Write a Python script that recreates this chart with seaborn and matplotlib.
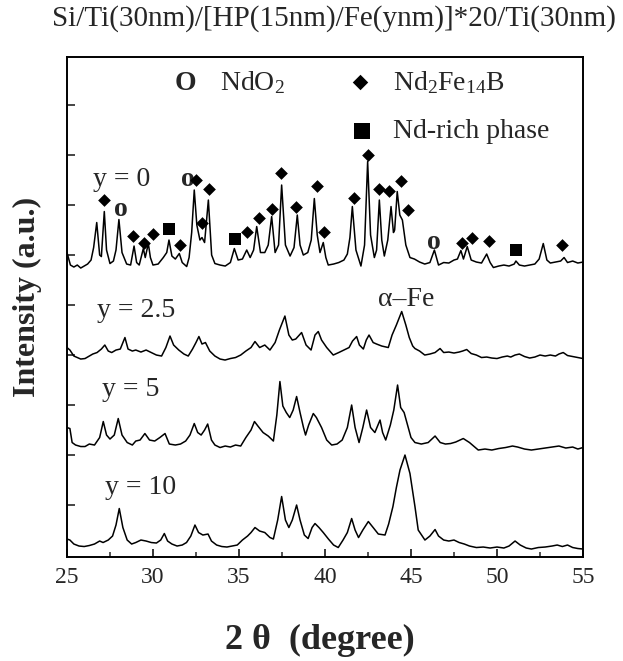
import matplotlib
matplotlib.use("Agg")
import matplotlib.pyplot as plt
from matplotlib.ticker import MultipleLocator
import pandas as pd
import seaborn as sns

sns.set_style("ticks")
plt.rcParams["font.family"] = ["Liberation Serif", "DejaVu Serif"]
plt.rcParams["mathtext.fontset"] = "custom"
plt.rcParams["mathtext.rm"] = "Liberation Serif"
plt.rcParams["mathtext.it"] = "Liberation Serif:italic"
plt.rcParams["mathtext.bf"] = "Liberation Serif:bold"

# ---- XRD patterns (2-theta, offset intensity), one list per Fe thickness ----
pattern_y0 = [
    (25.0, 6.05), (25.2, 5.80), (25.4, 5.76), (25.6, 5.80), (25.8, 5.74), (26.0, 5.78),
    (26.2, 5.82), (26.4, 5.90), (26.55, 6.15), (26.73, 6.65), (26.9, 6.00), (27.0, 5.97),
    (27.17, 6.87), (27.3, 6.10), (27.5, 5.83), (27.7, 5.88), (27.85, 6.10), (28.02, 6.71),
    (28.2, 6.05), (28.47, 5.82), (28.7, 5.80), (28.9, 6.18), (29.05, 5.85), (29.2, 5.80),
    (29.44, 6.13), (29.55, 5.95), (29.73, 6.23), (29.85, 5.95), (30.0, 5.80), (30.3, 5.82),
    (30.6, 5.95), (30.8, 6.05), (30.93, 6.30), (31.1, 5.98), (31.3, 5.92), (31.53, 6.03),
    (31.7, 5.85), (31.96, 5.77), (32.1, 5.95), (32.25, 6.45), (32.4, 7.30), (32.55, 6.60),
    (32.73, 6.30), (32.85, 6.35), (33.0, 6.25), (33.22, 7.10), (33.41, 6.00), (33.6, 5.83),
    (33.9, 5.80), (34.2, 5.78), (34.5, 5.85), (34.73, 6.13), (34.95, 5.90), (35.2, 5.92),
    (35.45, 6.10), (35.65, 5.95), (35.85, 6.10), (36.03, 6.57), (36.25, 6.05), (36.5, 6.05),
    (36.7, 6.20), (36.9, 6.77), (37.1, 6.05), (37.3, 6.20), (37.48, 7.40), (37.7, 6.20),
    (37.97, 5.98), (38.2, 6.15), (38.39, 6.80), (38.55, 6.20), (38.74, 6.00), (39.0, 6.05),
    (39.2, 6.30), (39.38, 7.13), (39.55, 6.40), (39.71, 6.05), (39.9, 6.25), (40.05, 5.95),
    (40.19, 5.80), (40.5, 5.82), (40.8, 5.85), (41.1, 5.90), (41.3, 6.02), (41.45, 6.35),
    (41.59, 6.97), (41.8, 6.10), (42.09, 5.78), (42.3, 6.20), (42.48, 7.87), (42.65, 6.40),
    (42.87, 5.95), (43.0, 6.10), (43.16, 7.10), (43.3, 6.30), (43.45, 5.98), (43.65, 6.30),
    (43.84, 6.97), (43.98, 6.45), (44.05, 6.50), (44.2, 7.27), (44.35, 6.80), (44.5, 6.70),
    (44.7, 6.20), (44.94, 5.95), (45.2, 5.92), (45.5, 5.86), (45.8, 5.82), (46.1, 5.85),
    (46.36, 6.10), (46.6, 5.80), (46.9, 5.85), (47.2, 5.84), (47.5, 5.90), (47.7, 5.92),
    (47.9, 6.09), (48.05, 5.92), (48.27, 6.17), (48.5, 5.90), (48.8, 5.86), (49.1, 5.84),
    (49.4, 6.02), (49.6, 5.85), (49.79, 5.75), (50.1, 5.78), (50.4, 5.80), (50.7, 5.78),
    (51.0, 5.82), (51.1, 5.88), (51.3, 5.80), (51.6, 5.78), (51.9, 5.80), (52.2, 5.82),
    (52.45, 5.92), (52.69, 6.23), (52.9, 5.90), (53.1, 5.84), (53.4, 5.86), (53.7, 5.88),
    (53.9, 5.95), (54.1, 5.85), (54.4, 5.88), (54.7, 5.84), (55.0, 5.86),
]

pattern_y2_5 = [
    (25.0, 4.15), (25.17, 4.10), (25.4, 3.98), (25.6, 3.95), (25.8, 3.92), (26.05, 3.93),
    (26.3, 3.98), (26.5, 4.02), (26.75, 4.05), (27.0, 4.12), (27.2, 4.20), (27.4, 4.08),
    (27.6, 4.05), (27.85, 4.10), (28.1, 4.12), (28.37, 4.35), (28.55, 4.12), (28.8, 4.08),
    (29.0, 4.10), (29.3, 4.06), (29.6, 4.10), (29.9, 4.05), (30.2, 4.00), (30.5, 3.98),
    (30.75, 4.15), (30.99, 4.38), (31.2, 4.20), (31.5, 4.10), (31.8, 4.02), (32.05, 3.98),
    (32.3, 4.12), (32.5, 4.25), (32.67, 4.37), (32.85, 4.22), (33.05, 4.25), (33.3, 4.08),
    (33.6, 3.98), (33.9, 3.92), (34.19, 3.90), (34.5, 3.93), (34.8, 3.95), (35.1, 4.00),
    (35.4, 4.08), (35.7, 4.15), (35.93, 4.27), (36.2, 4.15), (36.5, 4.20), (36.8, 4.10),
    (37.1, 4.25), (37.35, 4.50), (37.67, 4.78), (37.9, 4.40), (38.1, 4.30), (38.3, 4.32),
    (38.64, 4.45), (38.9, 4.20), (39.19, 4.10), (39.42, 4.40), (39.61, 4.47), (39.8, 4.30),
    (40.1, 4.15), (40.48, 4.00), (40.8, 4.05), (41.1, 4.10), (41.4, 4.15), (41.6, 4.28),
    (41.84, 4.37), (42.0, 4.20), (42.23, 4.12), (42.4, 4.30), (42.56, 4.40), (42.8, 4.25),
    (43.0, 4.22), (43.3, 4.18), (43.68, 4.15), (43.9, 4.40), (44.15, 4.60), (44.46, 4.87),
    (44.7, 4.60), (44.9, 4.35), (45.1, 4.18), (45.23, 4.13), (45.5, 4.08), (45.8, 4.00),
    (46.1, 4.02), (46.4, 4.05), (46.69, 4.13), (46.9, 4.05), (47.2, 4.06), (47.5, 4.04),
    (47.8, 4.06), (48.0, 4.08), (48.24, 4.11), (48.5, 4.03), (48.8, 4.00), (49.1, 3.95),
    (49.4, 3.96), (49.7, 3.94), (50.0, 3.93), (50.3, 3.96), (50.6, 3.98), (50.8, 3.96),
    (51.05, 4.00), (51.3, 4.02), (51.6, 3.97), (51.9, 3.94), (52.2, 3.96), (52.5, 4.00),
    (52.8, 3.98), (53.1, 4.00), (53.4, 3.98), (53.6, 4.02), (53.85, 4.05), (54.1, 3.99),
    (54.4, 3.97), (54.7, 3.95), (55.0, 3.93),
]

pattern_y5 = [
    (25.0, 2.55), (25.17, 2.53), (25.3, 2.25), (25.5, 2.20), (25.8, 2.17), (26.05, 2.17),
    (26.3, 2.22), (26.6, 2.20), (26.9, 2.35), (27.11, 2.67), (27.3, 2.40), (27.5, 2.32),
    (27.75, 2.40), (27.98, 2.73), (28.2, 2.40), (28.5, 2.25), (28.8, 2.20), (29.0, 2.28),
    (29.25, 2.30), (29.53, 2.43), (29.8, 2.30), (30.1, 2.28), (30.4, 2.35), (30.7, 2.43),
    (30.95, 2.22), (31.3, 2.20), (31.6, 2.22), (31.9, 2.28), (32.15, 2.40), (32.4, 2.63),
    (32.6, 2.45), (32.8, 2.40), (33.0, 2.50), (33.18, 2.62), (33.4, 2.30), (33.6, 2.20),
    (33.9, 2.15), (34.2, 2.18), (34.5, 2.16), (34.8, 2.20), (35.1, 2.18), (35.4, 2.35),
    (35.7, 2.50), (35.9, 2.67), (36.1, 2.58), (36.4, 2.45), (36.7, 2.38), (37.0, 2.28),
    (37.2, 2.80), (37.38, 3.47), (37.55, 2.98), (37.75, 2.85), (37.95, 2.75), (38.15, 2.90),
    (38.35, 3.17), (38.55, 2.85), (38.75, 2.55), (38.87, 2.40), (39.05, 2.60), (39.32, 2.83),
    (39.5, 2.75), (39.8, 2.55), (40.1, 2.30), (40.39, 2.20), (40.7, 2.22), (41.0, 2.30),
    (41.3, 2.55), (41.55, 3.00), (41.75, 2.55), (41.98, 2.25), (42.2, 2.55), (42.42, 2.90),
    (42.65, 2.55), (42.9, 2.45), (43.2, 2.70), (43.35, 2.45), (43.53, 2.30), (43.8, 2.60),
    (44.0, 2.90), (44.22, 3.40), (44.4, 2.95), (44.6, 2.85), (44.8, 2.60), (45.0, 2.35),
    (45.23, 2.25), (45.6, 2.22), (46.0, 2.25), (46.4, 2.38), (46.7, 2.25), (47.0, 2.22),
    (47.3, 2.23), (47.6, 2.26), (48.04, 2.33), (48.4, 2.25), (48.91, 2.10), (49.3, 2.12),
    (49.7, 2.10), (50.1, 2.13), (50.5, 2.15), (50.9, 2.18), (51.2, 2.16), (51.6, 2.12),
    (52.0, 2.10), (52.4, 2.12), (52.8, 2.14), (53.2, 2.16), (53.6, 2.18), (54.0, 2.14),
    (54.4, 2.16), (54.7, 2.12), (55.0, 2.15),
]

pattern_y10 = [
    (25.0, 0.32), (25.17, 0.30), (25.4, 0.22), (25.7, 0.18), (26.0, 0.17), (26.3, 0.19),
    (26.6, 0.22), (26.9, 0.28), (27.1, 0.25), (27.4, 0.30), (27.65, 0.38), (27.85, 0.60),
    (28.04, 0.93), (28.25, 0.55), (28.5, 0.30), (28.76, 0.22), (29.0, 0.25), (29.3, 0.30),
    (29.6, 0.28), (29.9, 0.25), (30.2, 0.24), (30.45, 0.30), (30.66, 0.43), (30.85, 0.28),
    (31.1, 0.22), (31.4, 0.18), (31.7, 0.20), (31.95, 0.25), (32.2, 0.38), (32.44, 0.60),
    (32.65, 0.45), (32.9, 0.40), (33.2, 0.42), (33.4, 0.28), (33.7, 0.20), (34.0, 0.17),
    (34.3, 0.16), (34.6, 0.18), (34.9, 0.20), (35.2, 0.30), (35.5, 0.38), (35.7, 0.45),
    (35.93, 0.55), (36.2, 0.48), (36.5, 0.45), (36.8, 0.35), (37.0, 0.32), (37.25, 0.70),
    (37.48, 1.17), (37.7, 0.70), (37.9, 0.55), (38.1, 0.70), (38.35, 1.00), (38.55, 0.70),
    (38.8, 0.40), (39.02, 0.33), (39.25, 0.55), (39.42, 0.63), (39.65, 0.55), (39.9, 0.45),
    (40.2, 0.32), (40.5, 0.20), (40.77, 0.15), (41.05, 0.30), (41.3, 0.45), (41.55, 0.73),
    (41.75, 0.50), (41.95, 0.35), (42.2, 0.50), (42.52, 0.67), (42.8, 0.55), (43.1, 0.42),
    (43.49, 0.40), (43.7, 0.62), (43.95, 0.97), (44.15, 1.35), (44.36, 1.70), (44.65, 2.00),
    (44.94, 1.63), (45.23, 0.97), (45.42, 0.50), (45.81, 0.30), (46.1, 0.38), (46.4, 0.51),
    (46.6, 0.38), (46.9, 0.30), (47.2, 0.28), (47.5, 0.30), (47.8, 0.25), (48.1, 0.22),
    (48.4, 0.18), (48.8, 0.15), (49.2, 0.16), (49.6, 0.14), (50.0, 0.16), (50.4, 0.14),
    (50.7, 0.18), (51.05, 0.28), (51.35, 0.20), (51.7, 0.14), (52.0, 0.12), (52.4, 0.15),
    (52.8, 0.16), (53.2, 0.18), (53.5, 0.20), (53.8, 0.17), (54.1, 0.20), (54.4, 0.15),
    (54.7, 0.13), (55.0, 0.12),
]

# ---- phase identification marks on the y = 0 pattern ----
nd2fe14b_peaks = [
    (27.17, 7.10), (28.86, 6.38), (29.50, 6.25), (30.02, 6.43), (31.57, 6.20),
    (32.50, 7.51), (32.83, 6.65), (33.27, 7.32), (35.45, 6.47), (36.16, 6.75),
    (36.90, 6.93), (37.44, 7.65), (38.29, 6.97), (39.51, 7.38), (39.96, 6.47),
    (41.69, 7.15), (42.48, 8.01), (43.14, 7.32), (43.72, 7.28), (44.40, 7.48),
    (44.84, 6.91), (47.95, 6.25), (48.53, 6.35), (49.56, 6.28), (53.76, 6.20),
]
ndo2_peaks = [(28.12, 6.92), (32.05, 7.51), (46.34, 6.25)]
nd_rich_peaks = [(30.95, 6.52), (34.77, 6.33), (51.12, 6.11)]

# ---- curve labels (text, 2-theta, intensity) ----
curve_labels = [
    ("y = 0", 26.51, 7.38),
    ("y = 2.5", 26.73, 4.77),
    ("y = 5", 27.02, 3.18),
    ("y = 10", 27.21, 1.23),
]
alpha_fe_label = ("α–Fe", 44.74, 4.98)

x_ticks = [25, 30, 35, 40, 45, 50, 55]
title = "Si/Ti(30nm)/[HP(15nm)/Fe(ynm)]*20/Ti(30nm)"

fig = plt.figure(figsize=(6.23, 6.61), dpi=100)
ax = fig.add_axes([0.1075, 0.1573, 0.8283, 0.7564])

for pts in (pattern_y0, pattern_y2_5, pattern_y5, pattern_y10):
    df = pd.DataFrame(pts, columns=["two_theta", "intensity"])
    sns.lineplot(data=df, x="two_theta", y="intensity", color="black",
                 linewidth=1.1, estimator=None, sort=False, ax=ax)

# circles for NdO2 drawn as letters, underneath the diamonds
for x, y in ndo2_peaks:
    ax.text(x, y, "o", ha="center", va="center", fontsize=20,
            fontweight="bold", zorder=3)

dia = pd.DataFrame(nd2fe14b_peaks, columns=["two_theta", "intensity"])
sns.scatterplot(data=dia, x="two_theta", y="intensity", marker="D", s=42,
                color="black", linewidth=0, ax=ax, zorder=4)
sq = pd.DataFrame(nd_rich_peaks, columns=["two_theta", "intensity"])
sns.scatterplot(data=sq, x="two_theta", y="intensity", marker="s", s=66,
                color="black", linewidth=0, ax=ax, zorder=4)

for text, x, y in curve_labels:
    ax.text(x, y, text, fontsize=20, va="baseline", ha="left")
ax.text(alpha_fe_label[1], alpha_fe_label[2], alpha_fe_label[0], fontsize=20,
        va="baseline", ha="center")

# key for the phase symbols
ax.text(0.2287, 0.934, "O", transform=ax.transAxes, fontsize=20,
        fontweight="bold", ha="center", va="baseline")
ax.text(0.2965, 0.934, r"NdO$_2$", transform=ax.transAxes, fontsize=20,
        ha="left", va="baseline")
ax.scatter([0.5688], [0.950], marker="D", s=62, color="black", linewidths=0,
           transform=ax.transAxes, clip_on=False)
ax.text(0.6318, 0.934, r"Nd$_2$Fe$_{14}$B", transform=ax.transAxes,
        fontsize=20, ha="left", va="baseline")
ax.scatter([0.5717], [0.852], marker="s", s=120, color="black", linewidths=0,
           transform=ax.transAxes, clip_on=False)
ax.text(0.6318, 0.838, "Nd-rich phase", transform=ax.transAxes, fontsize=20,
        ha="left", va="baseline")

ax.set_xlim(25, 55)
ax.set_ylim(-0.04, 9.96)
ax.set_xticks(x_ticks)
ax.xaxis.set_minor_locator(MultipleLocator(2.5))
ax.set_yticks(range(1, 10))
ax.tick_params(axis="x", which="major", direction="in", length=6, width=1.3,
               labelsize=17, pad=7, top=False)
ax.tick_params(axis="x", which="minor", direction="in", length=3.5, width=1.1,
               top=False)
ax.tick_params(axis="y", which="major", direction="in", length=6, width=1.2,
               labelleft=False, right=False)
for sp in ax.spines.values():
    sp.set_linewidth(1.4)
    sp.set_color("black")

ax.set_xlabel("2 θ  (degree)", fontsize=26, fontweight="bold", va="center")
ax.xaxis.set_label_coords(0.49, -0.166)
ax.set_ylabel("Intensity (a.u.)", fontsize=23, fontweight="bold", va="center")
ax.yaxis.set_label_coords(-0.0775, 0.52)

fig.text(333.5 / 623, 1 - 19 / 661, title, ha="center", va="center",
         fontsize=21)

fig.savefig("out.png", dpi=100)
